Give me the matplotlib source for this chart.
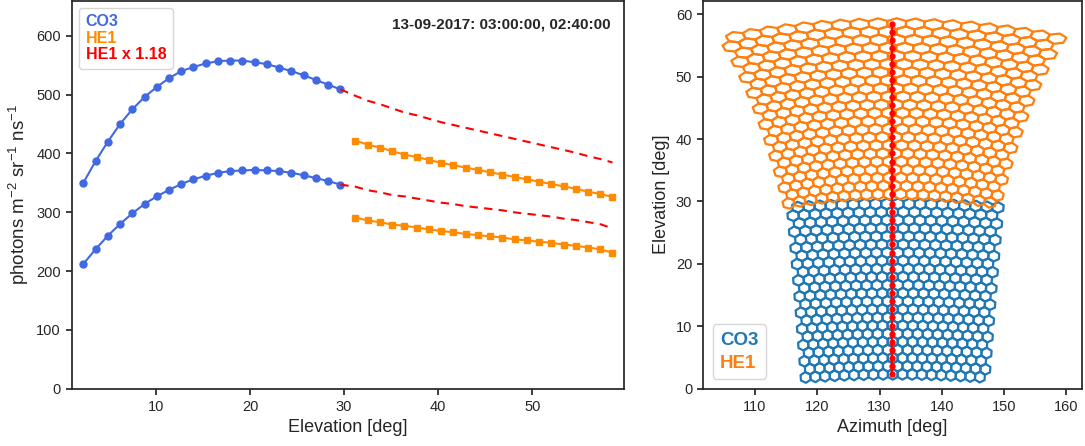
import numpy as np
import matplotlib.pyplot as plt
from matplotlib.collections import PolyCollection
from matplotlib.lines import Line2D

plt.rcParams['font.family'] = ['Liberation Sans', 'DejaVu Sans']
plt.rcParams['text.color'] = '.15'
plt.rcParams['axes.labelcolor'] = '.15'
plt.rcParams['axes.edgecolor'] = '.15'
plt.rcParams['xtick.color'] = '.15'
plt.rcParams['ytick.color'] = '.15'
plt.rcParams['axes.linewidth'] = 1.25
plt.rcParams['xtick.major.width'] = 1.25
plt.rcParams['ytick.major.width'] = 1.25
plt.rcParams['xtick.major.size'] = 4.5
plt.rcParams['ytick.major.size'] = 4.5
plt.rcParams['mathtext.default'] = 'regular'

# elevation of the pixels along the profile column
co3_elev = [2.3, 3.6, 4.9, 6.2, 7.5, 8.8, 10.1, 11.4, 12.7, 14.0, 15.3,
            16.6, 17.9, 19.2, 20.5, 21.8, 23.1, 24.4, 25.7, 27.0, 28.3, 29.6]
he1_elev = [31.2, 32.5, 33.8, 35.1, 36.4, 37.7, 39.0, 40.3, 41.6, 42.9, 44.2,
            45.5, 46.8, 48.1, 49.4, 50.7, 52.0, 53.3, 54.6, 55.9, 57.2, 58.5]

# photons m-2 sr-1 ns-1, two time stamps
co3_t1 = [350, 387, 420, 450, 475, 496, 513, 528, 540, 547, 553,
          557, 558, 558, 555, 552, 546, 540, 533, 525, 517, 509]
co3_t2 = [212, 237, 260, 280, 298, 314, 327, 338, 348, 356, 362,
          367, 370, 371, 372, 371, 370, 367, 363, 358, 353, 347]
he1_t1 = [422, 415, 410, 404, 398, 394, 389, 384, 380, 376, 372,
          368, 364, 360, 356, 352, 348, 344, 340, 335, 331, 326]
he1_t2 = [291, 286, 283, 279, 277, 274, 271, 268, 266, 263, 261,
          259, 257, 254, 252, 250, 248, 245, 243, 240, 237, 231]
he1_scale = 1.18

# camera pointing (azimuth of camera centre), pixels per row, pixel pitch [deg]
cam_names = ['CO3', 'HE1']
cam_az = [132.5, 132.0]
cam_cols = [19, 19]
cam_pitch = [1.6, 1.6]
profile_az = 132.0


def sky(u, v, az0, el0):
    # camera angular offsets -> azimuth / elevation
    u, v, e = np.radians(u), np.radians(v), np.radians(el0)
    x = np.cos(v) * np.cos(u)
    y = np.cos(v) * np.sin(u)
    z = np.sin(v)
    xr = x * np.cos(e) - z * np.sin(e)
    zr = x * np.sin(e) + z * np.cos(e)
    return az0 + np.degrees(np.arctan2(y, xr)), np.degrees(np.arcsin(zr))


fig = plt.figure(figsize=(10.85, 4.46), dpi=100)
ax = fig.add_axes([0.0664, 0.1287, 0.5085, 0.8700])
ax2 = fig.add_axes([0.6482, 0.1287, 0.3488, 0.8700])

##Left panel
for c, h in [(co3_t1, he1_t1), (co3_t2, he1_t2)]:
    ax.plot(co3_elev, c, 'o-', color='royalblue', ms=5, lw=1.5)
    ax.plot(he1_elev, h, 's-', color='darkorange', ms=4.8, lw=1.5)
    ax.plot([co3_elev[-1]] + he1_elev, [c[-1]] + [he1_scale * v for v in h],
            '--', color='red', lw=1.5, dashes=(4, 3))

ax.set_xlim(1.1, 59.7)
ax.set_ylim(0, 660)
ax.set_xticks([10, 20, 30, 40, 50])
ax.set_yticks([0, 100, 200, 300, 400, 500, 600])
ax.tick_params(labelsize=10.5)
ax.set_xlabel('Elevation [deg]', fontsize=13)
ax.set_ylabel(r'photons m$^{-2}$ sr$^{-1}$ ns$^{-1}$', fontsize=13.5)
ax.text(0.976, 0.938, '13-09-2017: 03:00:00, 02:40:00', transform=ax.transAxes,
        ha='right', va='center', fontsize=11, fontweight='bold')
proxies = [Line2D([], [], linestyle='none') for i in range(3)]
ax.legend(proxies, ['CO3', 'HE1', 'HE1 x %.2f' % he1_scale], loc='upper left',
          handlelength=0, handletextpad=0, labelcolor=['royalblue', 'darkorange', 'red'],
          prop={'weight': 'bold', 'size': 11.5}, borderaxespad=0.45, labelspacing=0.1,
          edgecolor='0.8')

##Right panel
ang = np.radians(np.arange(6) * 60)
colors = ['#1f77b4', '#ff7f0e']
for elev, az0, ncol, pitch, col in zip([co3_elev, he1_elev], cam_az, cam_cols, cam_pitch, colors):
    el0 = np.mean(elev)
    dv = np.mean(np.diff(elev))
    rv = dv / 1.5
    ru = pitch / np.sqrt(3)
    polys = []
    for k, e in enumerate(elev):
        v = e - el0
        shift = 0.25 if k % 2 else -0.25
        for j in range(ncol):
            u = (j - (ncol - 1) / 2 + shift) * pitch
            a, b = sky(u + ru * np.sin(ang), v + rv * np.cos(ang), az0, el0)
            polys.append(np.column_stack([a, b]))
    ax2.add_collection(PolyCollection(polys, facecolors='none', edgecolors=col, linewidths=1.6))

prof = co3_elev + he1_elev
ax2.plot([profile_az] * len(prof), prof, 'o-', color='red', ms=3.5, lw=1.5, zorder=5)

ax2.set_xlim(101.7, 162.45)
ax2.set_ylim(0, 62.2)
ax2.set_xticks([110, 120, 130, 140, 150, 160])
ax2.set_yticks([0, 10, 20, 30, 40, 50, 60])
ax2.tick_params(labelsize=10.5)
ax2.set_xlabel('Azimuth [deg]', fontsize=13)
ax2.set_ylabel('Elevation [deg]', fontsize=13)
proxies = [Line2D([], [], linestyle='none') for i in range(2)]
ax2.legend(proxies, cam_names, loc='lower left', handlelength=0, handletextpad=0,
           labelcolor=colors, prop={'weight': 'bold', 'size': 13.5},
           borderaxespad=0.5, labelspacing=0.3, edgecolor='0.8')

fig.savefig('out.png', dpi=100)
